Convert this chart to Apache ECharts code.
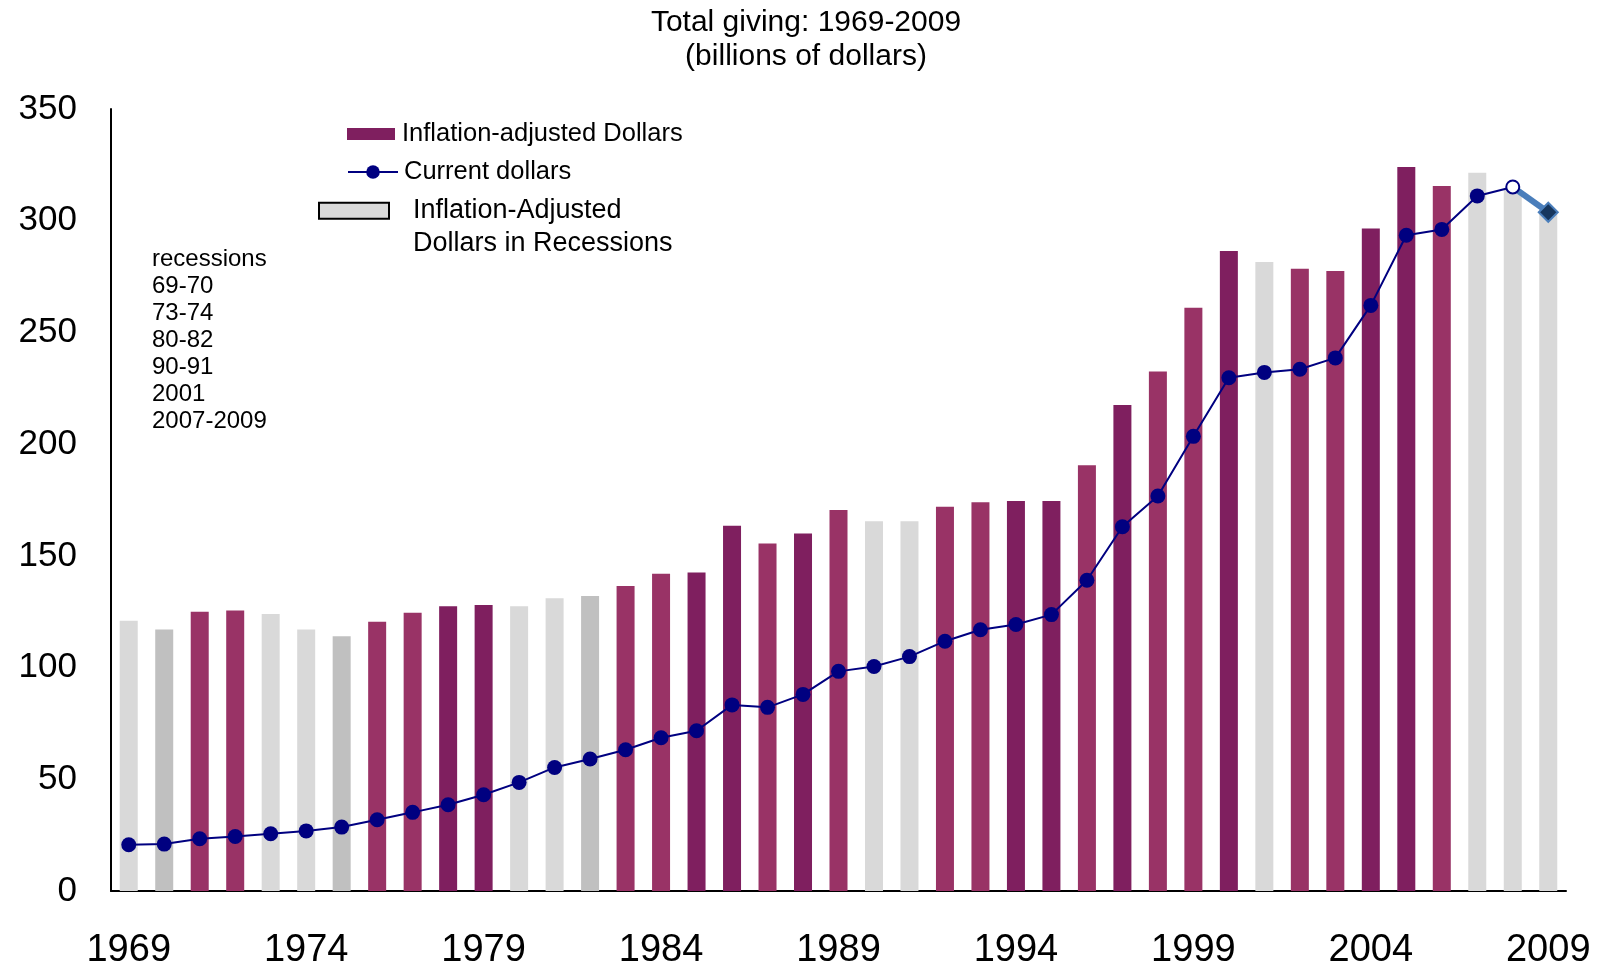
<!DOCTYPE html>
<html>
<head>
<meta charset="utf-8">
<script src="https://cdn.jsdelivr.net/npm/echarts@6/dist/echarts.min.js"></script>
<style>
  html, body { margin: 0; padding: 0; background: #fff; }
  #chart { width: 1604px; height: 969px; }
</style>
</head>
<body>
<div id="chart"></div>
<script>
// ---- data ----
const years = ['1969','1970','1971','1972','1973','1974','1975','1976','1977','1978',
  '1979','1980','1981','1982','1983','1984','1985','1986','1987','1988',
  '1989','1990','1991','1992','1993','1994','1995','1996','1997','1998',
  '1999','2000','2001','2002','2003','2004','2005','2006','2007','2008','2009'];

// Inflation-adjusted dollars (bars)
const inflationAdjusted = [121, 117, 125, 125.5, 124, 117, 114, 120.5, 124.5, 127.5,
  128, 127.5, 131, 132, 136.5, 142, 142.5, 163.5, 155.5, 160,
  170.5, 165.5, 165.5, 172, 174, 174.5, 174.5, 190.5, 217.5, 232.5,
  261, 286.5, 281.5, 278.5, 277.5, 296.5, 324, 315.5, 321.5, 314, 304];

// Current dollars (line)
const currentDollars = [20.7, 21.0, 23.4, 24.4, 25.6, 26.9, 28.6, 31.9, 35.2, 38.6,
  43.1, 48.6, 55.3, 59.1, 63.2, 68.6, 71.7, 83.3, 82.2, 88.0,
  98.3, 100.5, 104.9, 111.8, 116.9, 119.3, 123.7, 139.1, 163.0, 176.8,
  203.5, 229.7, 232.1, 233.5, 238.6, 262.1, 293.5, 296.1, 311.1, 315.1, 303.8];

// bar shade group per year: A/B = normal years, L/D = recession years
const barKind = ['L','D','A','A','L','L','D','A','A','B',
  'B','L','L','D','A','A','B','B','A','B',
  'A','L','L','A','A','B','B','A','B','A',
  'A','B','L','A','A','B','B','A','L','L','L'];

const recessionNote = ['recessions','69-70','73-74','80-82','90-91','2001','2007-2009'];
const yTicks = { min: 0, max: 350, interval: 50 };

// ---- styles ----
const kindColor = { A: '#993366', B: '#7f1f5f', L: '#d9d9d9', D: '#c0c0c0' };
const FONT = "'Liberation Sans', Arial, sans-serif";

const normalBars = years.map((y, i) =>
  (barKind[i] === 'A' || barKind[i] === 'B')
    ? { value: inflationAdjusted[i], itemStyle: { color: kindColor[barKind[i]] } } : '-');
const recessionBars = years.map((y, i) =>
  (barKind[i] === 'L' || barKind[i] === 'D')
    ? { value: inflationAdjusted[i], itemStyle: { color: kindColor[barKind[i]] } } : '-');

const last = years.length - 1;
const currentLine = currentDollars.map((v, i) => {
  if (i === last) return '-';
  if (i === last - 1) return { value: v, itemStyle: { color: '#ffffff', borderColor: '#000080', borderWidth: 2 }, symbolSize: 13 };
  return v;
});
const projectionLine = currentDollars.map((v, i) => {
  if (i === last - 1) return { value: v, symbol: 'none' };
  if (i === last) return { value: v };
  return '-';
});

const chart = echarts.init(document.getElementById('chart'), null, { renderer: 'canvas' });
const NAME1 = 'Inflation-adjusted Dollars';
const NAME2 = 'Current dollars';
const NAME3 = 'Inflation-Adjusted Dollars in Recessions';

chart.setOption({
  animation: false,
  backgroundColor: '#ffffff',
  title: {
    text: 'Total giving: 1969-2009\n(billions of dollars)',
    left: 806, top: 6, textAlign: 'center', padding: 0,
    textStyle: { fontFamily: FONT, fontSize: 30, fontWeight: 'normal', color: '#000', lineHeight: 34 }
  },
  legend: [
    {
      data: [NAME1], left: 347, top: 121, orient: 'vertical', padding: 0,
      icon: 'rect', itemWidth: 48, itemHeight: 12, selectedMode: false,
      itemStyle: { color: '#7f1f5f' },
      textStyle: { fontFamily: FONT, fontSize: 25.5, color: '#000', padding: [0, 0, 0, 2] }
    },
    {
      data: [NAME2], left: 347, top: 159, orient: 'vertical', padding: 0,
      itemWidth: 50, itemHeight: 17, selectedMode: false,
      textStyle: { fontFamily: FONT, fontSize: 25.5, color: '#000', padding: [0, 0, 0, 1] }
    },
    {
      data: [{ name: NAME3, itemStyle: { color: '#d9d9d9', borderColor: '#000', borderWidth: 2 } }],
      left: 318, top: 162, orient: 'vertical', padding: 0,
      icon: 'rect', itemWidth: 70, itemHeight: 16, selectedMode: false,
      formatter: () => ' \nInflation-Adjusted\nDollars in Recessions',
      textStyle: { fontFamily: FONT, fontSize: 27, color: '#000', lineHeight: 32.5, padding: [0, 0, 0, 19] }
    }
  ],
  graphic: [{
    type: 'text', left: 152, top: 246,
    style: { text: recessionNote.join('\n'), font: '24px ' + FONT, fill: '#000', lineHeight: 27 }
  }],
  grid: { left: 111, right: 38, top: 109, bottom: 78, containLabel: false, outerBoundsMode: 'none' },
  xAxis: {
    type: 'category', data: years, boundaryGap: true,
    axisLine: { lineStyle: { color: '#000', width: 2 } },
    axisTick: { show: false },
    axisLabel: { interval: 4, margin: 41, color: '#000', fontFamily: FONT, fontSize: 38 },
    splitLine: { show: false }
  },
  yAxis: {
    type: 'value', min: yTicks.min, max: yTicks.max, interval: yTicks.interval,
    axisLine: { show: true, lineStyle: { color: '#000', width: 2 } },
    axisTick: { show: false },
    axisLabel: { margin: 34, color: '#000', fontFamily: FONT, fontSize: 35 },
    splitLine: { show: false }
  },
  series: [
    {
      name: NAME1, type: 'bar', data: normalBars, barWidth: 18, barGap: '-100%',
      itemStyle: { color: '#7f1f5f' }, z: 2
    },
    {
      name: NAME3, type: 'bar', data: recessionBars, barWidth: 18, barGap: '-100%',
      itemStyle: { color: '#d9d9d9' }, z: 2
    },
    {
      name: 'projection', type: 'line', data: projectionLine,
      symbol: 'diamond', symbolSize: 19,
      lineStyle: { color: '#4a7ebb', width: 6 },
      itemStyle: { color: '#17375e', borderColor: '#4a7ebb', borderWidth: 2 },
      z: 3
    },
    {
      name: NAME2, type: 'line', data: currentLine,
      symbol: 'circle', symbolSize: 15, showAllSymbol: true,
      lineStyle: { color: '#000080', width: 2 },
      itemStyle: { color: '#000080' },
      z: 4
    }
  ]
});
</script>
</body>
</html>
